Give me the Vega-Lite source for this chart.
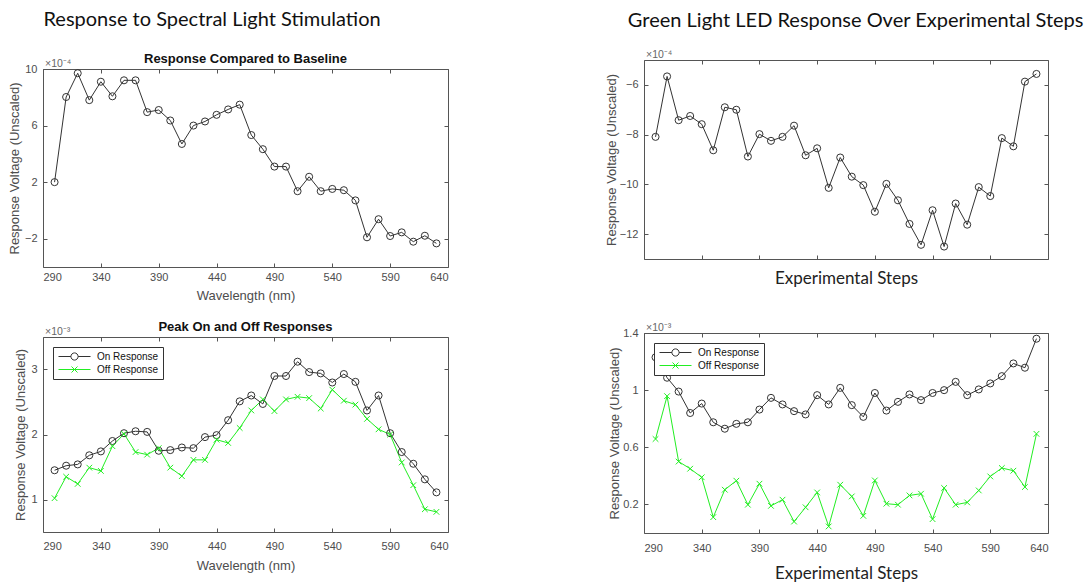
{
  "$schema": "https://vega.github.io/schema/vega-lite/v6.json",
  "background": "white",
  "padding": {"left": 8, "top": 10, "right": 5, "bottom": 0},
  "align": "none",
  "resolve": {"scale": {"color": "independent"}, "legend": {"color": "independent"}},
  "config": {
    "font": "Liberation Sans",
    "view": {"stroke": "#555", "strokeWidth": 1},
    "axis": {
      "grid": false, "domain": false, "domainColor": "#555", "domainWidth": 1,
      "tickColor": "#555", "tickSize": -4, "tickWidth": 1,
      "labelFont": "Liberation Sans", "labelFontSize": 11, "labelColor": "#4d4d4d", "labelPadding": 10,
      "titleFont": "Liberation Sans", "titleFontSize": 13, "titleFontWeight": "normal", "titleColor": "#4d4d4d"
    },
    "legend": {
      "orient": "top-left", "offset": 10, "padding": 4, "strokeColor": "#333", "fillColor": "white",
      "labelFont": "Liberation Sans", "labelFontSize": 10, "labelColor": "#111",
      "symbolSize": 100, "symbolStrokeWidth": 1, "symbolOffset": 12, "labelOffset": 17, "rowPadding": 1,
      "symbolFillColor": "transparent", "cornerRadius": 0, "titlePadding": 0
    }
  },
  "datasets": {
    "spectral_baseline": [
      {"wavelength_nm": 300, "response": 2.0}, {"wavelength_nm": 310, "response": 8.02}, {"wavelength_nm": 320, "response": 9.7},
      {"wavelength_nm": 330, "response": 7.8}, {"wavelength_nm": 340, "response": 9.1}, {"wavelength_nm": 350, "response": 8.07},
      {"wavelength_nm": 360, "response": 9.2}, {"wavelength_nm": 370, "response": 9.2}, {"wavelength_nm": 380, "response": 6.95},
      {"wavelength_nm": 390, "response": 7.1}, {"wavelength_nm": 400, "response": 6.36}, {"wavelength_nm": 410, "response": 4.7},
      {"wavelength_nm": 420, "response": 6.0}, {"wavelength_nm": 430, "response": 6.29}, {"wavelength_nm": 440, "response": 6.76},
      {"wavelength_nm": 450, "response": 7.14}, {"wavelength_nm": 460, "response": 7.48}, {"wavelength_nm": 470, "response": 5.33},
      {"wavelength_nm": 480, "response": 4.33}, {"wavelength_nm": 490, "response": 3.1}, {"wavelength_nm": 500, "response": 3.1},
      {"wavelength_nm": 510, "response": 1.36}, {"wavelength_nm": 520, "response": 2.38}, {"wavelength_nm": 530, "response": 1.36},
      {"wavelength_nm": 540, "response": 1.52}, {"wavelength_nm": 550, "response": 1.43}, {"wavelength_nm": 560, "response": 0.71},
      {"wavelength_nm": 570, "response": -1.9}, {"wavelength_nm": 580, "response": -0.62}, {"wavelength_nm": 590, "response": -1.81},
      {"wavelength_nm": 600, "response": -1.55}, {"wavelength_nm": 610, "response": -2.21}, {"wavelength_nm": 620, "response": -1.79},
      {"wavelength_nm": 630, "response": -2.33}
    ],
    "spectral_peaks": [
      {"wavelength_nm": 300, "series": "On Response", "response": 1.45}, {"wavelength_nm": 310, "series": "On Response", "response": 1.52},
      {"wavelength_nm": 320, "series": "On Response", "response": 1.54}, {"wavelength_nm": 330, "series": "On Response", "response": 1.68},
      {"wavelength_nm": 340, "series": "On Response", "response": 1.74}, {"wavelength_nm": 350, "series": "On Response", "response": 1.90},
      {"wavelength_nm": 360, "series": "On Response", "response": 2.02}, {"wavelength_nm": 370, "series": "On Response", "response": 2.05},
      {"wavelength_nm": 380, "series": "On Response", "response": 2.04}, {"wavelength_nm": 390, "series": "On Response", "response": 1.75},
      {"wavelength_nm": 400, "series": "On Response", "response": 1.76}, {"wavelength_nm": 410, "series": "On Response", "response": 1.80},
      {"wavelength_nm": 420, "series": "On Response", "response": 1.79}, {"wavelength_nm": 430, "series": "On Response", "response": 1.96},
      {"wavelength_nm": 440, "series": "On Response", "response": 1.99}, {"wavelength_nm": 450, "series": "On Response", "response": 2.22},
      {"wavelength_nm": 460, "series": "On Response", "response": 2.51}, {"wavelength_nm": 470, "series": "On Response", "response": 2.60},
      {"wavelength_nm": 480, "series": "On Response", "response": 2.47}, {"wavelength_nm": 490, "series": "On Response", "response": 2.90},
      {"wavelength_nm": 500, "series": "On Response", "response": 2.90}, {"wavelength_nm": 510, "series": "On Response", "response": 3.12},
      {"wavelength_nm": 520, "series": "On Response", "response": 2.96}, {"wavelength_nm": 530, "series": "On Response", "response": 2.94},
      {"wavelength_nm": 540, "series": "On Response", "response": 2.80}, {"wavelength_nm": 550, "series": "On Response", "response": 2.93},
      {"wavelength_nm": 560, "series": "On Response", "response": 2.81}, {"wavelength_nm": 570, "series": "On Response", "response": 2.37},
      {"wavelength_nm": 580, "series": "On Response", "response": 2.60}, {"wavelength_nm": 590, "series": "On Response", "response": 2.02},
      {"wavelength_nm": 600, "series": "On Response", "response": 1.73}, {"wavelength_nm": 610, "series": "On Response", "response": 1.55},
      {"wavelength_nm": 620, "series": "On Response", "response": 1.31}, {"wavelength_nm": 630, "series": "On Response", "response": 1.11},
      {"wavelength_nm": 300, "series": "Off Response", "response": 1.02}, {"wavelength_nm": 310, "series": "Off Response", "response": 1.35},
      {"wavelength_nm": 320, "series": "Off Response", "response": 1.24}, {"wavelength_nm": 330, "series": "Off Response", "response": 1.49},
      {"wavelength_nm": 340, "series": "Off Response", "response": 1.44}, {"wavelength_nm": 350, "series": "Off Response", "response": 1.82},
      {"wavelength_nm": 360, "series": "Off Response", "response": 2.01}, {"wavelength_nm": 370, "series": "Off Response", "response": 1.73},
      {"wavelength_nm": 380, "series": "Off Response", "response": 1.69}, {"wavelength_nm": 390, "series": "Off Response", "response": 1.79},
      {"wavelength_nm": 400, "series": "Off Response", "response": 1.49}, {"wavelength_nm": 410, "series": "Off Response", "response": 1.36},
      {"wavelength_nm": 420, "series": "Off Response", "response": 1.61}, {"wavelength_nm": 430, "series": "Off Response", "response": 1.61},
      {"wavelength_nm": 440, "series": "Off Response", "response": 1.92}, {"wavelength_nm": 450, "series": "Off Response", "response": 1.87},
      {"wavelength_nm": 460, "series": "Off Response", "response": 2.10}, {"wavelength_nm": 470, "series": "Off Response", "response": 2.37},
      {"wavelength_nm": 480, "series": "Off Response", "response": 2.54}, {"wavelength_nm": 490, "series": "Off Response", "response": 2.36},
      {"wavelength_nm": 500, "series": "Off Response", "response": 2.54}, {"wavelength_nm": 510, "series": "Off Response", "response": 2.58},
      {"wavelength_nm": 520, "series": "Off Response", "response": 2.56}, {"wavelength_nm": 530, "series": "Off Response", "response": 2.40},
      {"wavelength_nm": 540, "series": "Off Response", "response": 2.69}, {"wavelength_nm": 550, "series": "Off Response", "response": 2.52},
      {"wavelength_nm": 560, "series": "Off Response", "response": 2.46}, {"wavelength_nm": 570, "series": "Off Response", "response": 2.24},
      {"wavelength_nm": 580, "series": "Off Response", "response": 2.08}, {"wavelength_nm": 590, "series": "Off Response", "response": 2.00},
      {"wavelength_nm": 600, "series": "Off Response", "response": 1.57}, {"wavelength_nm": 610, "series": "Off Response", "response": 1.22},
      {"wavelength_nm": 620, "series": "Off Response", "response": 0.85}, {"wavelength_nm": 630, "series": "Off Response", "response": 0.81}
    ],
    "green_baseline": [
      {"step": 300, "response": -8.09}, {"step": 310, "response": -5.66}, {"step": 320, "response": -7.42}, {"step": 330, "response": -7.25},
      {"step": 340, "response": -7.58}, {"step": 350, "response": -8.63}, {"step": 360, "response": -6.90}, {"step": 370, "response": -7.00},
      {"step": 380, "response": -8.88}, {"step": 390, "response": -7.98}, {"step": 400, "response": -8.25}, {"step": 410, "response": -8.09},
      {"step": 420, "response": -7.64}, {"step": 430, "response": -8.83}, {"step": 440, "response": -8.55}, {"step": 450, "response": -10.14},
      {"step": 460, "response": -8.92}, {"step": 470, "response": -9.69}, {"step": 480, "response": -10.03}, {"step": 490, "response": -11.10},
      {"step": 500, "response": -9.98}, {"step": 510, "response": -10.64}, {"step": 520, "response": -11.59}, {"step": 530, "response": -12.43},
      {"step": 540, "response": -11.04}, {"step": 550, "response": -12.50}, {"step": 560, "response": -10.77}, {"step": 570, "response": -11.62},
      {"step": 580, "response": -10.11}, {"step": 590, "response": -10.47}, {"step": 600, "response": -8.14}, {"step": 610, "response": -8.47},
      {"step": 620, "response": -5.87}, {"step": 630, "response": -5.56}
    ],
    "green_peaks": [
      {"step": 300, "series": "On Response", "response": 1.23}, {"step": 310, "series": "On Response", "response": 1.087},
      {"step": 320, "series": "On Response", "response": 0.99}, {"step": 330, "series": "On Response", "response": 0.84},
      {"step": 340, "series": "On Response", "response": 0.906}, {"step": 350, "series": "On Response", "response": 0.775},
      {"step": 360, "series": "On Response", "response": 0.73}, {"step": 370, "series": "On Response", "response": 0.764},
      {"step": 380, "series": "On Response", "response": 0.775}, {"step": 390, "series": "On Response", "response": 0.864},
      {"step": 400, "series": "On Response", "response": 0.946}, {"step": 410, "series": "On Response", "response": 0.90},
      {"step": 420, "series": "On Response", "response": 0.853}, {"step": 430, "series": "On Response", "response": 0.83},
      {"step": 440, "series": "On Response", "response": 0.965}, {"step": 450, "series": "On Response", "response": 0.90},
      {"step": 460, "series": "On Response", "response": 1.016}, {"step": 470, "series": "On Response", "response": 0.895},
      {"step": 480, "series": "On Response", "response": 0.813}, {"step": 490, "series": "On Response", "response": 0.98},
      {"step": 500, "series": "On Response", "response": 0.857}, {"step": 510, "series": "On Response", "response": 0.918},
      {"step": 520, "series": "On Response", "response": 0.97}, {"step": 530, "series": "On Response", "response": 0.93},
      {"step": 540, "series": "On Response", "response": 0.98}, {"step": 550, "series": "On Response", "response": 1.0},
      {"step": 560, "series": "On Response", "response": 1.058}, {"step": 570, "series": "On Response", "response": 0.965},
      {"step": 580, "series": "On Response", "response": 1.005}, {"step": 590, "series": "On Response", "response": 1.047},
      {"step": 600, "series": "On Response", "response": 1.098}, {"step": 610, "series": "On Response", "response": 1.187},
      {"step": 620, "series": "On Response", "response": 1.157}, {"step": 630, "series": "On Response", "response": 1.36},
      {"step": 300, "series": "Off Response", "response": 0.658}, {"step": 310, "series": "Off Response", "response": 0.958},
      {"step": 320, "series": "Off Response", "response": 0.50}, {"step": 330, "series": "Off Response", "response": 0.45},
      {"step": 340, "series": "Off Response", "response": 0.39}, {"step": 350, "series": "Off Response", "response": 0.111},
      {"step": 360, "series": "Off Response", "response": 0.303}, {"step": 370, "series": "Off Response", "response": 0.366},
      {"step": 380, "series": "Off Response", "response": 0.198}, {"step": 390, "series": "Off Response", "response": 0.345},
      {"step": 400, "series": "Off Response", "response": 0.19}, {"step": 410, "series": "Off Response", "response": 0.233},
      {"step": 420, "series": "Off Response", "response": 0.08}, {"step": 430, "series": "Off Response", "response": 0.18},
      {"step": 440, "series": "Off Response", "response": 0.284}, {"step": 450, "series": "Off Response", "response": 0.046},
      {"step": 460, "series": "Off Response", "response": 0.338}, {"step": 470, "series": "Off Response", "response": 0.256},
      {"step": 480, "series": "Off Response", "response": 0.12}, {"step": 490, "series": "Off Response", "response": 0.368},
      {"step": 500, "series": "Off Response", "response": 0.205}, {"step": 510, "series": "Off Response", "response": 0.198},
      {"step": 520, "series": "Off Response", "response": 0.263}, {"step": 530, "series": "Off Response", "response": 0.275},
      {"step": 540, "series": "Off Response", "response": 0.097}, {"step": 550, "series": "Off Response", "response": 0.315},
      {"step": 560, "series": "Off Response", "response": 0.198}, {"step": 570, "series": "Off Response", "response": 0.214},
      {"step": 580, "series": "Off Response", "response": 0.298}, {"step": 590, "series": "Off Response", "response": 0.396},
      {"step": 600, "series": "Off Response", "response": 0.455}, {"step": 610, "series": "Off Response", "response": 0.436},
      {"step": 620, "series": "Off Response", "response": 0.322}, {"step": 630, "series": "Off Response", "response": 0.694}
    ]
  },
  "hconcat": [
    {
      "title": {"text": "Response to Spectral Light Stimulation", "anchor": "start", "font": "Lato", "fontSize": 20, "fontWeight": "normal", "color": "#111", "offset": 23, "dx": 35},
      "spacing": 18,
      "resolve": {"scale": {"color": "independent"}, "legend": {"color": "independent"}},
      "vconcat": [
        {
          "width": 405, "height": 207,
          "view": {"stroke": null},
          "title": {"text": "Response Compared to Baseline", "font": "Liberation Sans", "fontSize": 13, "fontWeight": "bold", "color": "#111", "offset": -7},
          "data": {"name": "spectral_baseline"},
          "layer": [
            {
              "mark": {"type": "line", "color": "#333", "strokeWidth": 1},
              "encoding": {
                "x": {"field": "wavelength_nm", "type": "quantitative", "scale": {"domain": [290, 640], "nice": false, "zero": false}, "axis": {"values": [290, 340, 390, 440, 490, 540, 590, 640], "domain": true, "title": "Wavelength (nm)", "labelPadding": 8, "titlePadding": 7}},
                "y": {"field": "response", "type": "quantitative", "scale": {"domain": [-4, 10], "nice": false, "zero": false, "range": [207, 9]}, "axis": {"values": [-2, 2, 6, 10], "domain": true, "title": "Response Voltage (Unscaled)", "titlePadding": 3}}
              }
            },
            {
              "mark": {"type": "point", "shape": "circle", "filled": false, "color": "#333", "size": 50, "strokeWidth": 1, "opacity": 1},
              "encoding": {
                "x": {"field": "wavelength_nm", "type": "quantitative", "axis": {"orient": "top", "offset": -9, "domain": true, "values": [290, 340, 390, 440, 490, 540, 590, 640], "labels": false, "title": null}},
                "y": {"field": "response", "type": "quantitative", "axis": {"orient": "right", "domain": true, "values": [-2, 2, 6, 10], "labels": false, "title": null}}
              }
            },
            {
              "data": {"values": [{"exponent": "×10⁻⁴"}]},
              "mark": {"type": "text", "align": "left", "baseline": "alphabetic", "dx": 2, "dy": -2, "fontSize": 10.5, "color": "#666"},
              "encoding": {
                "x": {"datum": 290, "type": "quantitative", "axis": null},
                "y": {"datum": 10, "type": "quantitative", "axis": null},
                "text": {"field": "exponent"}
              }
            }
          ],
          "resolve": {"axis": {"x": "independent", "y": "independent"}}
        },
        {
          "width": 405, "height": 195,
          "title": {"text": "Peak On and Off Responses", "font": "Liberation Sans", "fontSize": 13, "fontWeight": "bold", "color": "#111", "offset": -7},
          "data": {"name": "spectral_peaks"},
          "layer": [
            {
              "mark": {"type": "line", "strokeWidth": 1},
              "encoding": {
                "x": {"field": "wavelength_nm", "type": "quantitative", "scale": {"domain": [290, 640], "nice": false, "zero": false}, "axis": {"values": [290, 340, 390, 440, 490, 540, 590, 640], "title": "Wavelength (nm)", "labelPadding": 12, "titlePadding": 8}},
                "y": {"field": "response", "type": "quantitative", "scale": {"domain": [0.5, 3.5], "nice": false, "zero": false}, "axis": {"values": [1, 2, 3], "title": "Response Voltage (Unscaled)", "titlePadding": 3}},
                "color": {
                  "field": "series", "type": "nominal",
                  "scale": {"domain": ["On Response", "Off Response"], "range": ["#333333", "#22ee22"]},
                  "legend": {
                    "title": null,
                    "symbolType": {"expr": "datum.value === 'On Response' ? 'M-3.2,0H-0.72M0.72,0H3.2M0.72,0A0.72,0.72,0,1,1,-0.72,0A0.72,0.72,0,1,1,0.72,0' : 'M-3.2,0H3.2M-0.6,-0.6L0.6,0.6M-0.6,0.6L0.6,-0.6'"}
                  }
                }
              }
            },
            {
              "transform": [{"filter": "datum.series === 'On Response'"}],
              "mark": {"type": "point", "shape": "circle", "filled": false, "size": 50, "strokeWidth": 1, "opacity": 1},
              "encoding": {
                "x": {"field": "wavelength_nm", "type": "quantitative", "axis": {"orient": "top", "values": [290, 340, 390, 440, 490, 540, 590, 640], "labels": false, "title": null}},
                "y": {"field": "response", "type": "quantitative", "axis": {"orient": "right", "values": [1, 2, 3], "labels": false, "title": null}},
                "color": {"field": "series", "type": "nominal"}
              }
            },
            {
              "transform": [{"filter": "datum.series === 'Off Response'"}],
              "mark": {"type": "point", "shape": "M-0.8,-0.8L0.8,0.8M-0.8,0.8L0.8,-0.8", "filled": false, "size": 50, "strokeWidth": 1, "opacity": 1},
              "encoding": {
                "x": {"field": "wavelength_nm", "type": "quantitative", "axis": null},
                "y": {"field": "response", "type": "quantitative", "axis": null},
                "color": {"field": "series", "type": "nominal"}
              }
            },
            {
              "data": {"values": [{"exponent": "×10⁻³"}]},
              "mark": {"type": "text", "align": "left", "baseline": "alphabetic", "dx": 2, "dy": -2, "fontSize": 10.5, "color": "#666"},
              "encoding": {
                "x": {"datum": 290, "type": "quantitative", "axis": null},
                "y": {"datum": 3.5, "type": "quantitative", "axis": null},
                "text": {"field": "exponent"}
              }
            }
          ],
          "resolve": {"axis": {"x": "independent", "y": "independent"}}
        }
      ]
    },
    {
      "title": {"text": "Green Light LED Response Over Experimental Steps", "anchor": "start", "font": "Lato", "fontSize": 20, "fontWeight": "normal", "color": "#111", "offset": 19, "dx": 23},
      "spacing": 35,
      "resolve": {"scale": {"color": "independent"}, "legend": {"color": "independent"}},
      "vconcat": [
        {
          "width": 404, "height": 199,
          "data": {"name": "green_baseline"},
          "layer": [
            {
              "mark": {"type": "line", "color": "#333", "strokeWidth": 1},
              "encoding": {
                "x": {"field": "step", "type": "quantitative", "scale": {"domain": [290, 640], "nice": false, "zero": false}, "axis": {"values": [290, 340, 390, 440, 490, 540, 590, 640], "labels": false, "title": "Experimental Steps", "titleFont": "Lato", "titleFontSize": 17, "titleColor": "#222", "titlePadding": 11}},
                "y": {"field": "response", "type": "quantitative", "scale": {"domain": [-13, -5], "nice": false, "zero": false}, "axis": {"values": [-12, -10, -8, -6], "title": "Response Voltage (Unscaled)", "titlePadding": 1}}
              }
            },
            {
              "mark": {"type": "point", "shape": "circle", "filled": false, "color": "#333", "size": 50, "strokeWidth": 1, "opacity": 1},
              "encoding": {
                "x": {"field": "step", "type": "quantitative", "axis": {"orient": "top", "values": [290, 340, 390, 440, 490, 540, 590, 640], "labels": false, "title": null}},
                "y": {"field": "response", "type": "quantitative", "axis": {"orient": "right", "values": [-12, -10, -8, -6], "labels": false, "title": null}}
              }
            },
            {
              "data": {"values": [{"exponent": "×10⁻⁴"}]},
              "mark": {"type": "text", "align": "left", "baseline": "alphabetic", "dx": 2, "dy": -2, "fontSize": 10.5, "color": "#666"},
              "encoding": {
                "x": {"datum": 290, "type": "quantitative", "axis": null},
                "y": {"datum": -5, "type": "quantitative", "axis": null},
                "text": {"field": "exponent"}
              }
            }
          ],
          "resolve": {"axis": {"x": "independent", "y": "independent"}}
        },
        {
          "width": 404, "height": 200,
          "data": {"name": "green_peaks"},
          "layer": [
            {
              "mark": {"type": "line", "strokeWidth": 1},
              "encoding": {
                "x": {"field": "step", "type": "quantitative", "scale": {"domain": [290, 640], "nice": false, "zero": false}, "axis": {"values": [290, 340, 390, 440, 490, 540, 590, 640], "title": "Experimental Steps", "titleFont": "Lato", "titleFontSize": 17, "titleColor": "#222", "labelPadding": 13, "titlePadding": 12}},
                "y": {"field": "response", "type": "quantitative", "scale": {"domain": [0, 1.4], "nice": false, "zero": false}, "axis": {"values": [0.2, 0.6, 1.0, 1.4], "format": ".1~f", "title": "Response Voltage (Unscaled)", "titlePadding": 1}},
                "color": {
                  "field": "series", "type": "nominal",
                  "scale": {"domain": ["On Response", "Off Response"], "range": ["#333333", "#22ee22"]},
                  "legend": {
                    "title": null,
                    "symbolType": {"expr": "datum.value === 'On Response' ? 'M-3.2,0H-0.72M0.72,0H3.2M0.72,0A0.72,0.72,0,1,1,-0.72,0A0.72,0.72,0,1,1,0.72,0' : 'M-3.2,0H3.2M-0.6,-0.6L0.6,0.6M-0.6,0.6L0.6,-0.6'"}
                  }
                }
              }
            },
            {
              "transform": [{"filter": "datum.series === 'On Response'"}],
              "mark": {"type": "point", "shape": "circle", "filled": false, "size": 50, "strokeWidth": 1, "opacity": 1},
              "encoding": {
                "x": {"field": "step", "type": "quantitative", "axis": {"orient": "top", "values": [290, 340, 390, 440, 490, 540, 590, 640], "labels": false, "title": null}},
                "y": {"field": "response", "type": "quantitative", "axis": {"orient": "right", "values": [0.2, 0.6, 1.0, 1.4], "labels": false, "title": null}},
                "color": {"field": "series", "type": "nominal"}
              }
            },
            {
              "transform": [{"filter": "datum.series === 'Off Response'"}],
              "mark": {"type": "point", "shape": "M-0.8,-0.8L0.8,0.8M-0.8,0.8L0.8,-0.8", "filled": false, "size": 50, "strokeWidth": 1, "opacity": 1},
              "encoding": {
                "x": {"field": "step", "type": "quantitative", "axis": null},
                "y": {"field": "response", "type": "quantitative", "axis": null},
                "color": {"field": "series", "type": "nominal"}
              }
            },
            {
              "data": {"values": [{"exponent": "×10⁻³"}]},
              "mark": {"type": "text", "align": "left", "baseline": "alphabetic", "dx": 2, "dy": -2, "fontSize": 10.5, "color": "#666"},
              "encoding": {
                "x": {"datum": 290, "type": "quantitative", "axis": null},
                "y": {"datum": 1.4, "type": "quantitative", "axis": null},
                "text": {"field": "exponent"}
              }
            }
          ],
          "resolve": {"axis": {"x": "independent", "y": "independent"}}
        }
      ]
    }
  ],
  "spacing": 155
}
